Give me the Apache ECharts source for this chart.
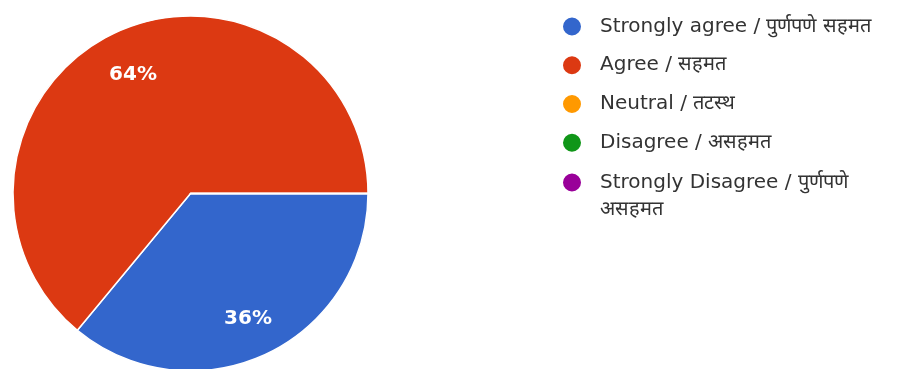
<!DOCTYPE html>
<html>
<head>
<meta charset="utf-8">
<script src="https://cdn.jsdelivr.net/npm/echarts@6/dist/echarts.min.js"></script>
<style>
html,body{margin:0;padding:0;background:#fff;}
#chart{width:912px;height:369px;}
</style>
</head>
<body>
<div id="chart"></div>
<script>
const categories = [
  'Strongly agree / पुर्णपणे सहमत',
  'Agree / सहमत',
  'Neutral / तटस्थ',
  'Disagree / असहमत',
  'Strongly Disagree / पुर्णपणे असहमत'
];
const values = [36, 64, 0, 0, 0];
const colors = ['#3366cc', '#dc3912', '#ff9900', '#109618', '#990099'];

const FONT = '"DejaVu Sans", Arial, sans-serif';
const LEGEND_SIZE = 20;
const LINE_H = 27;

const ctx = document.createElement('canvas').getContext('2d');
ctx.font = LEGEND_SIZE + 'px ' + FONT;
// wrap width: the widest first-row label fits, the last label does not
const LEGEND_MAX_W = ctx.measureText(categories[0]).width + 6;
function wrap(name) {
  const words = name.split(' ');
  const lines = [];
  let cur = '';
  words.forEach(w => {
    const t = cur ? cur + ' ' + w : w;
    if (cur && ctx.measureText(t).width > LEGEND_MAX_W) { lines.push(cur); cur = w; }
    else cur = t;
  });
  if (cur) lines.push(cur);
  return lines;
}
const wrapped = categories.map(wrap);

const pieData = categories.map((n, i) => ({ name: n, value: values[i], itemStyle: { color: colors[i] } }));
const labelData = categories.map((n, i) => ({ name: n, value: values[i] }));

const ITEM_GAP = 11.75;
const LEGEND_TOP = 13;
const LEGEND_LEFT = 561;
// single-line items in one legend; wrapped item in a second legend whose icon
// lines up with the first text line (leading blank lines balance the block)
const singleNames = categories.filter((n, i) => wrapped[i].length === 1);
const multiNames = categories.filter((n, i) => wrapped[i].length > 1);
const firstLineCenter = LEGEND_TOP + singleNames.length * (LINE_H + ITEM_GAP) + LINE_H / 2;

function legendBase(extra) {
  return Object.assign({
    orient: 'vertical',
    left: LEGEND_LEFT,
    padding: 0,
    itemWidth: 20,
    itemHeight: 20,
    itemGap: ITEM_GAP,
    icon: 'circle',
    selectedMode: false,
    formatter: name => {
      const l = wrapped[categories.indexOf(name)];
      return '\n'.repeat(l.length - 1) + l.join('\n');
    },
    textStyle: {
      fontFamily: FONT,
      fontSize: LEGEND_SIZE,
      color: '#333333',
      lineHeight: LINE_H,
      padding: [0, 0, 0, 13]
    }
  }, extra);
}

const legends = [legendBase({ top: LEGEND_TOP, data: singleNames })];
multiNames.forEach(n => {
  const lines = wrapped[categories.indexOf(n)].length;
  const boxH = LINE_H * (2 * lines - 1);
  legends.push(legendBase({ top: firstLineCenter - boxH / 2 + 1, data: [n] }));
});

const chart = echarts.init(document.getElementById('chart'), null, { renderer: 'canvas' });
chart.setOption({
  backgroundColor: '#ffffff',
  animation: false,
  legend: legends,
  series: [
    {
      type: 'pie',
      name: 'main',
      center: [190.5, 193.5],
      radius: [0, 177.5],
      startAngle: 0,
      clockwise: true,
      avoidLabelOverlap: false,
      label: { show: false },
      labelLine: { show: false },
      emphasis: { disabled: true },
      itemStyle: { borderColor: '#ffffff', borderWidth: 1.5 },
      data: pieData
    },
    {
      type: 'pie',
      name: 'labels',
      silent: true,
      legendHoverLink: false,
      center: [190.5, 193.5],
      radius: [0, 264],
      startAngle: 0,
      clockwise: true,
      avoidLabelOverlap: false,
      itemStyle: { color: 'rgba(0,0,0,0)', borderWidth: 0 },
      emphasis: { disabled: true },
      labelLine: { show: false },
      labelLayout: { dy: 3.5 },
      label: {
        show: true,
        position: 'inside',
        formatter: p => p.value > 0 ? Math.round(p.percent) + '%' : '',
        color: '#ffffff',
        fontFamily: FONT,
        fontWeight: 'bold',
        fontSize: 20
      },
      data: labelData
    }
  ]
});
</script>
</body>
</html>
